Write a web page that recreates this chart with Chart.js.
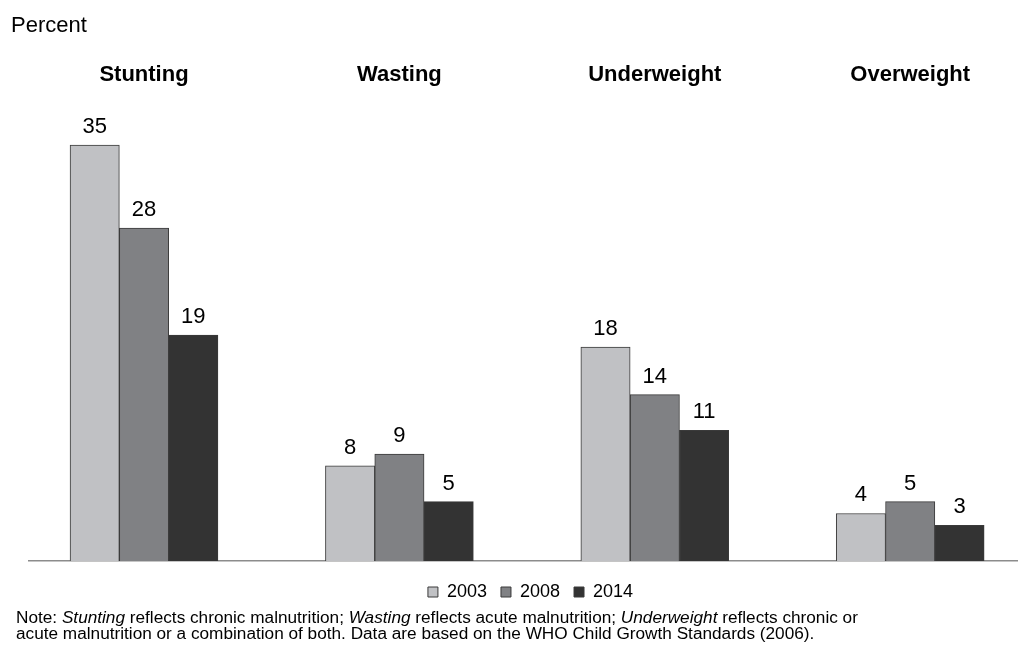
<!DOCTYPE html>
<html><head><meta charset="utf-8">
<script src="https://cdn.jsdelivr.net/npm/chart.js@4/dist/chart.umd.min.js"></script>
<style>
html,body{margin:0;padding:0;background:#fff;overflow:hidden;}
#wrap{position:relative;width:1018px;height:646px;overflow:hidden;}
#c{position:absolute;left:0;top:0;}
#note{position:absolute;left:16px;top:610px;font:16px/16px "Liberation Sans",Arial,sans-serif;color:#000;white-space:nowrap;transform:scaleX(1.075);transform-origin:0 0;}
</style></head><body>
<div id="wrap"><canvas id="c" width="1032" height="646"></canvas>
<div id="note">Note: <i>Stunting</i> reflects chronic malnutrition; <i>Wasting</i> reflects acute malnutrition; <i>Underweight</i> reflects chronic or<br>acute malnutrition or a combination of both. Data are based on the WHO Child Growth Standards (2006).</div></div>
<script>
const categories = ['Stunting', 'Wasting', 'Underweight', 'Overweight'];
const years = ['2003', '2008', '2014'];
const values2003 = [35, 8, 18, 4];
const values2008 = [28, 9, 14, 5];
const values2014 = [19, 5, 11, 3];
const seriesValues = [values2003, values2008, values2014];
const seriesColors = ['#c0c1c4', '#808184', '#333333'];

const FONT = '"Liberation Sans", Arial, sans-serif';

const labelPlugin = {
  id: 'barLabels',
  afterDatasetsDraw(chart) {
    const ctx = chart.ctx;
    ctx.save();
    ctx.fillStyle = '#000';
    ctx.textAlign = 'center';
    ctx.textBaseline = 'alphabetic';
    ctx.font = '22px ' + FONT;
    chart.data.datasets.forEach((ds, di) => {
      const meta = chart.getDatasetMeta(di);
      meta.data.forEach((bar, i) => {
        ctx.fillText(String(ds.data[i].y), bar.x, bar.y - 12);
      });
    });
    ctx.font = 'bold 22px ' + FONT;
    const xs = chart.scales.x;
    categories.forEach((c, i) => {
      ctx.fillText(c, xs.getPixelForValue(i), chart.chartArea.top - 19);
    });
    ctx.restore();
  }
};

const datasets = years.map((y, si) => ({
  label: y,
  data: seriesValues[si].map((v, i) => ({ x: i, y: v })),
  backgroundColor: seriesColors[si],
  borderColor: '#3a3a3a',
  borderWidth: 1,
  barThickness: 49.3
}));

new Chart(document.getElementById('c'), {
  type: 'bar',
  data: { datasets },
  plugins: [labelPlugin],
  options: {
    responsive: false,
    devicePixelRatio: 1,
    animation: false,
    layout: { padding: { left: 11, right: 0, top: 0, bottom: 35 } },
    plugins: {
      tooltip: { enabled: false },
      title: {
        display: true, text: 'Percent', align: 'start', color: '#000',
        font: { family: FONT, size: 22, weight: 'normal' },
        padding: { top: 12.6, bottom: 61 }
      },
      legend: {
        position: 'bottom',
        fullSize: false,
        labels: {
          boxWidth: 10, boxHeight: 10, padding: 14, color: '#000',
          font: { family: FONT, size: 18 }
        }
      }
    },
    scales: {
      x: {
        type: 'linear', position: 'bottom', min: -0.45027, max: 3.4769,
        offset: false,
        ticks: { display: false },
        grid: { display: false, drawTicks: false },
        border: { display: true, color: '#8c8c8c', width: 1.5 },
        afterFit(s) { s.height = 8; }
      },
      y: {
        min: 0, max: 38.785,
        ticks: { display: false },
        grid: { display: false, drawTicks: false },
        border: { display: false },
        afterFit(s) { s.width = 18; }
      }
    }
  }
});
</script>
</body></html>
